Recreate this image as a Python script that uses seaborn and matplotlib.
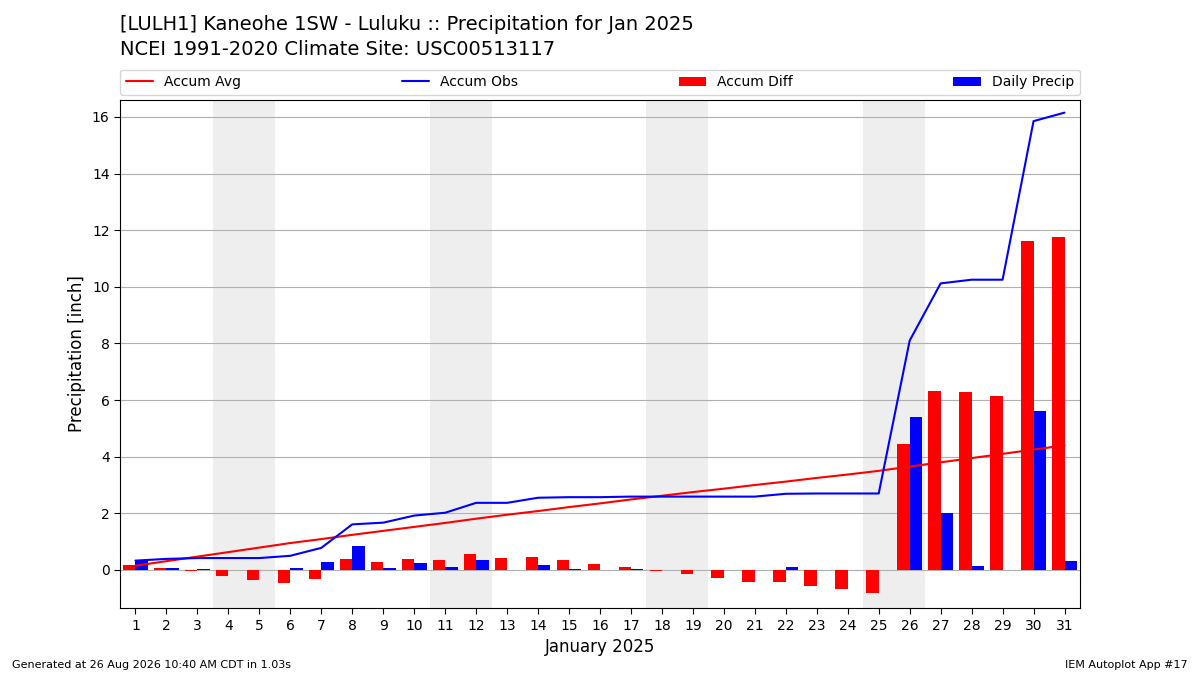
import numpy as np
import matplotlib
matplotlib.use("Agg")
import matplotlib.pyplot as plt
import seaborn as sns

days = list(range(1, 32))
daily_precip = [0.33, 0.06, 0.03, 0.0, 0.0, 0.08, 0.28, 0.83, 0.06, 0.25, 0.10, 0.35, 0.0, 0.18,
                0.02, 0.0, 0.02, 0.0, 0.0, 0.0, 0.0, 0.10, 0.01, 0.0, 0.0, 5.40, 2.02, 0.13, 0.0,
                5.60, 0.30]
accum_avg = [0.15, 0.31, 0.47, 0.63, 0.79, 0.95, 1.09, 1.24, 1.38, 1.52, 1.66, 1.81, 1.95, 2.08,
             2.22, 2.35, 2.49, 2.62, 2.75, 2.87, 3.00, 3.12, 3.25, 3.37, 3.50, 3.65, 3.80, 3.95,
             4.10, 4.25, 4.40]
weekends = [4, 11, 18, 25]

accum_obs = np.cumsum(daily_precip)
accum_diff = accum_obs - np.array(accum_avg)
x = np.array(days)

sns.set_style("white")
plt.rcParams['font.family'] = ['DejaVu Sans']
plt.rcParams['text.color'] = 'black'
plt.rcParams['axes.labelcolor'] = 'black'
plt.rcParams['xtick.color'] = 'black'
plt.rcParams['ytick.color'] = 'black'
fig = plt.figure(figsize=(12, 6.75), dpi=100)
ax = fig.add_axes([0.1, 0.099, 0.8, 0.753])

for w in weekends:
    ax.axvspan(w - 0.5, w + 1.5, color="#eeeeee", zorder=0, linewidth=0)

sns.lineplot(x=x, y=accum_avg, color="red", label="Accum Avg", ax=ax, zorder=3)
sns.lineplot(x=x, y=accum_obs, color="blue", label="Accum Obs", ax=ax, zorder=3)
ax.bar(x - 0.2, accum_diff, width=0.4, color="red", label="Accum Diff", zorder=2, linewidth=0)
ax.bar(x + 0.2, daily_precip, width=0.4, color="blue", label="Daily Precip", zorder=2, linewidth=0)

ax.set_xlim(0.5, 31.5)
ax.set_ylim(-1.35, 16.6)
ax.set_xticks(days)
ax.set_yticks(range(0, 17, 2))
ax.yaxis.grid(True, color="#b0b0b0", linewidth=0.8)
ax.set_axisbelow(True)
for s in ax.spines.values():
    s.set_color("black")
ax.tick_params(axis="both", direction="out", length=4, labelsize=10, left=True, bottom=True)
ax.set_xlabel("January 2025", fontsize=12)
ax.set_ylabel("Precipitation [inch]", fontsize=12)

ax.legend(loc="lower left", bbox_to_anchor=(0, 1.01, 1, 0.05), ncol=4, mode="expand",
          borderaxespad=0, fontsize=10, frameon=True)

fig.text(0.1, 0.955, "[LULH1] Kaneohe 1SW - Luluku :: Precipitation for Jan 2025", fontsize=14)
fig.text(0.1, 0.918, "NCEI 1991-2020 Climate Site: USC00513117", fontsize=14)
fig.text(0.01, 0.01, "Generated at 26 Aug 2026 10:40 AM CDT in 1.03s", fontsize=8)
fig.text(0.99, 0.01, "IEM Autoplot App #17", fontsize=8, ha="right")

fig.savefig("out.png", dpi=100)
